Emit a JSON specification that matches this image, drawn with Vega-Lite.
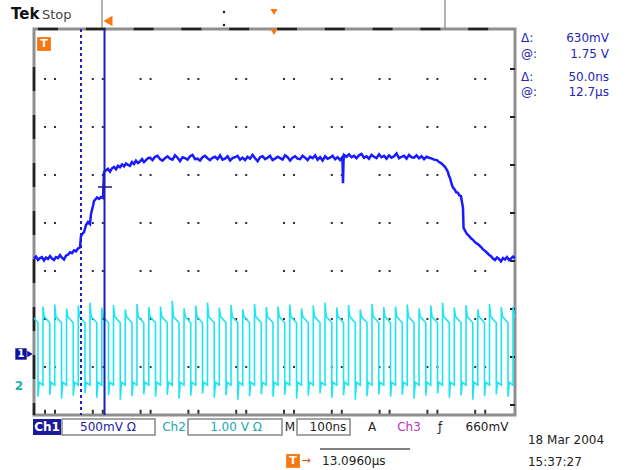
{
  "$schema": "https://vega.github.io/schema/vega-lite/v6.json",
  "width": 481,
  "height": 386,
  "autosize": {"type": "none"},
  "padding": {"left": 34, "top": 29, "right": 124, "bottom": 55},
  "background": "white",
  "config": {"view": {"stroke": "#8f8f8f", "strokeWidth": 3}, "text": {"font": "DejaVu Sans"}},
  "datasets": {
    "ch1": [
      {"x":0,"y":-0.74},{"x":0.042,"y":-0.70},{"x":0.083,"y":-0.77},{"x":0.125,"y":-0.73},{"x":0.166,"y":-0.71},{"x":0.208,"y":-0.78},{"x":0.249,"y":-0.72},{"x":0.291,"y":-0.75},{"x":0.333,"y":-0.69},{"x":0.374,"y":-0.74},{"x":0.416,"y":-0.77},{"x":0.457,"y":-0.71},{"x":0.499,"y":-0.73},{"x":0.540,"y":-0.67},{"x":0.582,"y":-0.72},{"x":0.624,"y":-0.76},{"x":0.665,"y":-0.68},{"x":0.707,"y":-0.66},{"x":0.748,"y":-0.61},{"x":0.790,"y":-0.63},{"x":0.832,"y":-0.57},{"x":0.873,"y":-0.59},{"x":0.915,"y":-0.53},{"x":0.956,"y":-0.51},
      {"x":0.977,"y":-0.27},{"x":1.019,"y":-0.21},{"x":1.040,"y":-0.19},{"x":1.081,"y":-0.04},{"x":1.123,"y":0.02},{"x":1.164,"y":-0.02},{"x":1.185,"y":0.19},{"x":1.227,"y":0.36},{"x":1.248,"y":0.46},{"x":1.268,"y":0.48},{"x":1.310,"y":0.53},{"x":1.352,"y":0.50},{"x":1.393,"y":0.54},{"x":1.435,"y":0.52},
      {"x":1.455,"y":1.06},{"x":1.497,"y":1.10},{"x":1.538,"y":1.13},{"x":1.580,"y":1.07},{"x":1.622,"y":1.14},{"x":1.663,"y":1.17},{"x":1.705,"y":1.12},{"x":1.746,"y":1.19},{"x":1.788,"y":1.16},{"x":1.830,"y":1.22},{"x":1.871,"y":1.18},{"x":1.913,"y":1.24},{"x":1.954,"y":1.21},{"x":1.996,"y":1.19},{"x":2.037,"y":1.27},{"x":2.079,"y":1.23},{"x":2.120,"y":1.30},{"x":2.162,"y":1.25},{"x":2.203,"y":1.28},{"x":2.245,"y":1.33},{"x":2.287,"y":1.27},{"x":2.328,"y":1.31},{"x":2.370,"y":1.35},
      {"x":2.412,"y":1.36},{"x":2.464,"y":1.31},{"x":2.516,"y":1.38},{"x":2.568,"y":1.40},{"x":2.620,"y":1.33},{"x":2.672,"y":1.30},{"x":2.724,"y":1.35},{"x":2.776,"y":1.39},{"x":2.828,"y":1.34},{"x":2.880,"y":1.32},{"x":2.932,"y":1.41},{"x":2.984,"y":1.36},{"x":3.036,"y":1.29},{"x":3.088,"y":1.37},{"x":3.140,"y":1.35},{"x":3.192,"y":1.32},{"x":3.244,"y":1.39},{"x":3.296,"y":1.42},{"x":3.348,"y":1.33},{"x":3.400,"y":1.34},{"x":3.452,"y":1.30},{"x":3.504,"y":1.37},{"x":3.556,"y":1.40},{"x":3.608,"y":1.35},{"x":3.660,"y":1.31},{"x":3.712,"y":1.36},{"x":3.764,"y":1.38},{"x":3.816,"y":1.33},{"x":3.868,"y":1.41},{"x":3.920,"y":1.32},{"x":3.972,"y":1.34},{"x":4.024,"y":1.39},{"x":4.076,"y":1.30},{"x":4.128,"y":1.35},{"x":4.180,"y":1.37},{"x":4.232,"y":1.40},{"x":4.284,"y":1.32},{"x":4.336,"y":1.36},{"x":4.388,"y":1.31},{"x":4.440,"y":1.38},{"x":4.492,"y":1.34},{"x":4.544,"y":1.42},{"x":4.596,"y":1.35},{"x":4.648,"y":1.29},{"x":4.700,"y":1.37},{"x":4.752,"y":1.39},{"x":4.804,"y":1.33},{"x":4.856,"y":1.36},{"x":4.908,"y":1.40},{"x":4.960,"y":1.31},{"x":5.012,"y":1.34},{"x":5.064,"y":1.38},{"x":5.116,"y":1.35},{"x":5.168,"y":1.32},{"x":5.220,"y":1.41},{"x":5.272,"y":1.37},{"x":5.324,"y":1.30},{"x":5.376,"y":1.36},{"x":5.428,"y":1.39},{"x":5.480,"y":1.34},{"x":5.532,"y":1.33},{"x":5.584,"y":1.40},{"x":5.636,"y":1.36},{"x":5.688,"y":1.31},{"x":5.740,"y":1.38},{"x":5.792,"y":1.35},{"x":5.844,"y":1.41},{"x":5.896,"y":1.32},{"x":5.948,"y":1.37},{"x":6.000,"y":1.30},{"x":6.052,"y":1.39},{"x":6.104,"y":1.34},{"x":6.156,"y":1.36},{"x":6.208,"y":1.40},{"x":6.260,"y":1.33},{"x":6.312,"y":1.37},{"x":6.364,"y":1.31},
      {"x":6.403,"y":1.36},{"x":6.414,"y":1.30},{"x":6.424,"y":0.83},{"x":6.435,"y":1.30},{"x":6.445,"y":1.42},{"x":6.497,"y":1.38},{"x":6.549,"y":1.43},{"x":6.601,"y":1.37},{"x":6.653,"y":1.40},{"x":6.705,"y":1.35},{"x":6.757,"y":1.41},{"x":6.809,"y":1.44},{"x":6.861,"y":1.36},{"x":6.913,"y":1.39},{"x":6.965,"y":1.34},{"x":7.017,"y":1.42},{"x":7.069,"y":1.38},{"x":7.121,"y":1.35},{"x":7.173,"y":1.43},{"x":7.225,"y":1.37},{"x":7.277,"y":1.40},{"x":7.329,"y":1.34},{"x":7.381,"y":1.41},{"x":7.433,"y":1.36},{"x":7.485,"y":1.39},{"x":7.537,"y":1.45},{"x":7.589,"y":1.35},{"x":7.641,"y":1.38},{"x":7.693,"y":1.40},{"x":7.745,"y":1.34},{"x":7.797,"y":1.42},{"x":7.849,"y":1.37},{"x":7.901,"y":1.36},{"x":7.953,"y":1.41},{"x":8.005,"y":1.35},{"x":8.057,"y":1.39},{"x":8.109,"y":1.33},{"x":8.161,"y":1.38},{"x":8.213,"y":1.36},
      {"x":8.274,"y":1.34},{"x":8.316,"y":1.32},{"x":8.378,"y":1.31},{"x":8.420,"y":1.27},{"x":8.462,"y":1.25},{"x":8.503,"y":1.21},{"x":8.545,"y":1.17},{"x":8.586,"y":1.10},{"x":8.607,"y":1.06},{"x":8.628,"y":0.98},{"x":8.649,"y":0.94},{"x":8.670,"y":0.86},{"x":8.690,"y":0.79},{"x":8.711,"y":0.74},{"x":8.753,"y":0.69},{"x":8.774,"y":0.64},{"x":8.815,"y":0.63},{"x":8.836,"y":0.58},{"x":8.877,"y":0.56},{"x":8.919,"y":0.31},{"x":8.930,"y":-0.10},{"x":8.961,"y":-0.16},{"x":9.002,"y":-0.23},{"x":9.044,"y":-0.27},{"x":9.085,"y":-0.32},{"x":9.127,"y":-0.35},{"x":9.168,"y":-0.40},{"x":9.210,"y":-0.43},{"x":9.251,"y":-0.46},{"x":9.293,"y":-0.50},{"x":9.335,"y":-0.55},{"x":9.376,"y":-0.58},{"x":9.418,"y":-0.62},{"x":9.459,"y":-0.66},{"x":9.501,"y":-0.69},{"x":9.542,"y":-0.74},{"x":9.584,"y":-0.77},{"x":9.625,"y":-0.72},{"x":9.667,"y":-0.75},{"x":9.708,"y":-0.80},{"x":9.750,"y":-0.73},{"x":9.792,"y":-0.76},{"x":9.833,"y":-0.71},{"x":9.875,"y":-0.77},{"x":9.917,"y":-0.74},{"x":9.958,"y":-0.70},{"x":10.0,"y":-0.73}
    ],
    "ch2": [
      {"x":0,"y":-1.98},
      {"x":0.083,"y":-2.08},{"x":0.083,"y":-3.62},{"x":0.108,"y":-3.32},{"x":0.187,"y":-3.38},{"x":0.187,"y":-1.74},{"x":0.212,"y":-1.95},
      {"x":0.327,"y":-2.08},{"x":0.327,"y":-3.58},{"x":0.352,"y":-3.32},{"x":0.431,"y":-3.38},{"x":0.431,"y":-1.70},{"x":0.456,"y":-1.95},
      {"x":0.572,"y":-2.08},{"x":0.572,"y":-3.66},{"x":0.597,"y":-3.32},{"x":0.676,"y":-3.38},{"x":0.676,"y":-1.78},{"x":0.701,"y":-1.95},
      {"x":0.816,"y":-2.08},{"x":0.816,"y":-3.60},{"x":0.841,"y":-3.32},{"x":0.920,"y":-3.38},{"x":0.920,"y":-1.72},{"x":0.945,"y":-1.95},
      {"x":1.060,"y":-2.08},{"x":1.060,"y":-3.55},{"x":1.085,"y":-3.32},{"x":1.164,"y":-3.38},{"x":1.164,"y":-1.66},{"x":1.189,"y":-1.95},
      {"x":1.305,"y":-2.08},{"x":1.305,"y":-3.64},{"x":1.330,"y":-3.32},{"x":1.409,"y":-3.38},{"x":1.409,"y":-1.76},{"x":1.434,"y":-1.95},
      {"x":1.549,"y":-2.08},{"x":1.549,"y":-3.59},{"x":1.574,"y":-3.32},{"x":1.653,"y":-3.38},{"x":1.653,"y":-1.71},{"x":1.678,"y":-1.95},
      {"x":1.793,"y":-2.08},{"x":1.793,"y":-3.68},{"x":1.818,"y":-3.32},{"x":1.897,"y":-3.38},{"x":1.897,"y":-1.80},{"x":1.922,"y":-1.95},
      {"x":2.037,"y":-2.08},{"x":2.037,"y":-3.61},{"x":2.062,"y":-3.32},{"x":2.141,"y":-3.38},{"x":2.141,"y":-1.69},{"x":2.166,"y":-1.95},
      {"x":2.282,"y":-2.08},{"x":2.282,"y":-3.57},{"x":2.307,"y":-3.32},{"x":2.386,"y":-3.38},{"x":2.386,"y":-1.75},{"x":2.411,"y":-1.95},
      {"x":2.526,"y":-2.08},{"x":2.526,"y":-3.62},{"x":2.551,"y":-3.32},{"x":2.630,"y":-3.38},{"x":2.630,"y":-1.74},{"x":2.655,"y":-1.95},
      {"x":2.770,"y":-2.08},{"x":2.770,"y":-3.58},{"x":2.795,"y":-3.32},{"x":2.874,"y":-3.38},{"x":2.874,"y":-1.62},{"x":2.899,"y":-1.95},
      {"x":3.015,"y":-2.08},{"x":3.015,"y":-3.66},{"x":3.040,"y":-3.32},{"x":3.119,"y":-3.38},{"x":3.119,"y":-1.78},{"x":3.144,"y":-1.95},
      {"x":3.259,"y":-2.08},{"x":3.259,"y":-3.60},{"x":3.284,"y":-3.32},{"x":3.363,"y":-3.38},{"x":3.363,"y":-1.72},{"x":3.388,"y":-1.95},
      {"x":3.503,"y":-2.08},{"x":3.503,"y":-3.55},{"x":3.528,"y":-3.32},{"x":3.607,"y":-3.38},{"x":3.607,"y":-1.66},{"x":3.632,"y":-1.95},
      {"x":3.748,"y":-2.08},{"x":3.748,"y":-3.64},{"x":3.773,"y":-3.32},{"x":3.852,"y":-3.38},{"x":3.852,"y":-1.76},{"x":3.877,"y":-1.95},
      {"x":3.992,"y":-2.08},{"x":3.992,"y":-3.59},{"x":4.017,"y":-3.32},{"x":4.096,"y":-3.38},{"x":4.096,"y":-1.71},{"x":4.121,"y":-1.95},
      {"x":4.236,"y":-2.08},{"x":4.236,"y":-3.68},{"x":4.261,"y":-3.32},{"x":4.340,"y":-3.38},{"x":4.340,"y":-1.80},{"x":4.365,"y":-1.95},
      {"x":4.480,"y":-2.08},{"x":4.480,"y":-3.61},{"x":4.505,"y":-3.32},{"x":4.584,"y":-3.38},{"x":4.584,"y":-1.69},{"x":4.609,"y":-1.95},
      {"x":4.725,"y":-2.08},{"x":4.725,"y":-3.57},{"x":4.750,"y":-3.32},{"x":4.829,"y":-3.38},{"x":4.829,"y":-1.75},{"x":4.854,"y":-1.95},
      {"x":4.969,"y":-2.08},{"x":4.969,"y":-3.62},{"x":4.994,"y":-3.32},{"x":5.073,"y":-3.38},{"x":5.073,"y":-1.74},{"x":5.098,"y":-1.95},
      {"x":5.213,"y":-2.08},{"x":5.213,"y":-3.58},{"x":5.238,"y":-3.32},{"x":5.317,"y":-3.38},{"x":5.317,"y":-1.70},{"x":5.342,"y":-1.95},
      {"x":5.458,"y":-2.08},{"x":5.458,"y":-3.66},{"x":5.483,"y":-3.32},{"x":5.562,"y":-3.38},{"x":5.562,"y":-1.78},{"x":5.587,"y":-1.95},
      {"x":5.702,"y":-2.08},{"x":5.702,"y":-3.60},{"x":5.727,"y":-3.32},{"x":5.806,"y":-3.38},{"x":5.806,"y":-1.72},{"x":5.831,"y":-1.95},
      {"x":5.946,"y":-2.08},{"x":5.946,"y":-3.55},{"x":5.971,"y":-3.32},{"x":6.050,"y":-3.38},{"x":6.050,"y":-1.66},{"x":6.075,"y":-1.95},
      {"x":6.191,"y":-2.08},{"x":6.191,"y":-3.64},{"x":6.216,"y":-3.32},{"x":6.295,"y":-3.38},{"x":6.295,"y":-1.76},{"x":6.320,"y":-1.95},
      {"x":6.435,"y":-2.08},{"x":6.435,"y":-3.59},{"x":6.460,"y":-3.32},{"x":6.539,"y":-3.38},{"x":6.539,"y":-1.71},{"x":6.564,"y":-1.95},
      {"x":6.679,"y":-2.08},{"x":6.679,"y":-3.68},{"x":6.704,"y":-3.32},{"x":6.783,"y":-3.38},{"x":6.783,"y":-1.80},{"x":6.808,"y":-1.95},
      {"x":6.923,"y":-2.08},{"x":6.923,"y":-3.61},{"x":6.948,"y":-3.32},{"x":7.027,"y":-3.38},{"x":7.027,"y":-1.69},{"x":7.052,"y":-1.95},
      {"x":7.168,"y":-2.08},{"x":7.168,"y":-3.57},{"x":7.193,"y":-3.32},{"x":7.272,"y":-3.38},{"x":7.272,"y":-1.75},{"x":7.297,"y":-1.95},
      {"x":7.412,"y":-2.08},{"x":7.412,"y":-3.62},{"x":7.437,"y":-3.32},{"x":7.516,"y":-3.38},{"x":7.516,"y":-1.74},{"x":7.541,"y":-1.95},
      {"x":7.656,"y":-2.08},{"x":7.656,"y":-3.58},{"x":7.681,"y":-3.32},{"x":7.760,"y":-3.38},{"x":7.760,"y":-1.70},{"x":7.785,"y":-1.95},
      {"x":7.901,"y":-2.08},{"x":7.901,"y":-3.66},{"x":7.926,"y":-3.32},{"x":8.005,"y":-3.38},{"x":8.005,"y":-1.78},{"x":8.030,"y":-1.95},
      {"x":8.145,"y":-2.08},{"x":8.145,"y":-3.60},{"x":8.170,"y":-3.32},{"x":8.249,"y":-3.38},{"x":8.249,"y":-1.72},{"x":8.274,"y":-1.95},
      {"x":8.389,"y":-2.08},{"x":8.389,"y":-3.55},{"x":8.414,"y":-3.32},{"x":8.493,"y":-3.38},{"x":8.493,"y":-1.66},{"x":8.518,"y":-1.95},
      {"x":8.634,"y":-2.08},{"x":8.634,"y":-3.64},{"x":8.659,"y":-3.32},{"x":8.738,"y":-3.38},{"x":8.738,"y":-1.76},{"x":8.763,"y":-1.95},
      {"x":8.878,"y":-2.08},{"x":8.878,"y":-3.59},{"x":8.903,"y":-3.32},{"x":8.982,"y":-3.38},{"x":8.982,"y":-1.71},{"x":9.007,"y":-1.95},
      {"x":9.122,"y":-2.08},{"x":9.122,"y":-3.68},{"x":9.147,"y":-3.32},{"x":9.226,"y":-3.38},{"x":9.226,"y":-1.80},{"x":9.251,"y":-1.95},
      {"x":9.366,"y":-2.08},{"x":9.366,"y":-3.61},{"x":9.391,"y":-3.32},{"x":9.470,"y":-3.38},{"x":9.470,"y":-1.69},{"x":9.495,"y":-1.95},
      {"x":9.611,"y":-2.08},{"x":9.611,"y":-3.57},{"x":9.636,"y":-3.32},{"x":9.715,"y":-3.38},{"x":9.715,"y":-1.75},{"x":9.740,"y":-1.95},
      {"x":9.855,"y":-2.08},{"x":9.855,"y":-3.62},{"x":9.880,"y":-3.32},{"x":9.959,"y":-3.38},{"x":9.959,"y":-1.74},{"x":9.984,"y":-1.95},
      {"x":10.0,"y":-1.97}
    ],
    "dotrows": [
      {"x":0.208,"x2":9.5,"y":3},{"x":0.208,"x2":9.5,"y":2},{"x":0.208,"x2":9.5,"y":1},{"x":0.208,"x2":9.5,"y":0},{"x":0.208,"x2":9.5,"y":-1},{"x":0.208,"x2":9.5,"y":-2},{"x":0.208,"x2":9.5,"y":-3}
    ],
    "bticks": [{"x":0.208,"x2":9.5,"y":-3.93}],
    "topdash": [{"x":0.083,"x2":10,"y":4.0417}],
    "leftdash": [{"x":0,"y":3.25,"y2":-4}],
    "rightticks": [{"x":9.948,"y":3.229,"y2":-4}],
    "cursdot": [{"x":0.977,"y":4.0417,"y2":-4}],
    "curssolid": [{"x":1.466,"y":4.0417,"y2":-4}],
    "cross": [{"x":1.331,"x2":1.622,"y":0.75}],
    "seps": [{"x":1.414,"y":4.646,"y2":4.0625},{"x":8.545,"y":4.646,"y2":4.0625}],
    "overline": [{"x":5.946,"x2":7.817,"y":-4.708}],
    "boxes": [{"x":0.582,"x2":2.516,"y":-4.083,"y2":-4.417},{"x":3.202,"x2":5.156,"y":-4.083,"y2":-4.417},{"x":5.468,"x2":6.570,"y":-4.083,"y2":-4.417}],
    "ch1box": [{"x":-0.021,"x2":0.561,"y":-4.083,"y2":-4.417}],
    "orangeSq": [{"x":0.208,"y":3.729},{"x":5.385,"y":-4.958}],
    "orangeT": [{"x":0.208,"y":3.729,"t":"T"},{"x":5.385,"y":-4.958,"t":"T"}],
    "trigpos": [{"x":1.538,"y":4.208}],
    "trigtri": [{"x":4.99,"y":4.396},{"x":4.99,"y":3.979}],
    "blackdots": [{"x":3.95,"y":4.396},{"x":3.95,"y":4.125}],
    "tek": [{"x":-0.478,"y":4.354,"t":"Tek"}],
    "stop": [{"x":0.166,"y":4.333,"t":"Stop"}],
    "readlab": [{"x":10.125,"y":3.854,"t":"Δ:"},{"x":10.125,"y":3.521,"t":"@:"},{"x":10.125,"y":3.042,"t":"Δ:"},{"x":10.125,"y":2.729,"t":"@:"}],
    "readval": [{"x":11.954,"y":3.854,"t":"630mV"},{"x":11.954,"y":3.521,"t":"1.75 V"},{"x":11.954,"y":3.042,"t":"50.0ns"},{"x":11.954,"y":2.729,"t":"12.7µs"}],
    "st_white": [{"x":0.270,"y":-4.25,"t":"Ch1"}],
    "st_blue": [{"x":1.538,"y":-4.25,"t":"500mV Ω"}],
    "st_cyan": [{"x":2.911,"y":-4.25,"t":"Ch2"},{"x":4.2,"y":-4.25,"t":"1.00 V Ω"}],
    "st_black": [{"x":5.322,"y":-4.25,"t":"M"},{"x":6.112,"y":-4.25,"t":"100ns"},{"x":7.027,"y":-4.25,"t":"A"},{"x":8.441,"y":-4.25,"t":"ƒ"},{"x":9.418,"y":-4.25,"t":"660mV"}],
    "st_mag": [{"x":7.796,"y":-4.25,"t":"Ch3"}],
    "bottomleft": [{"x":5.988,"y":-4.958,"t":"13.0960µs"},{"x":10.27,"y":-4.521,"t":"18 Mar 2004"},{"x":10.27,"y":-4.979,"t":"15:37:27"}],
    "arrow": [{"x":5.655,"y":-4.958,"t":"→"}],
    "m1": [{"x":-0.27,"y":-2.729}],
    "m1tri": [{"x":-0.083,"y":-2.729}],
    "m1t": [{"x":-0.27,"y":-2.729,"t":"1"}],
    "m2t": [{"x":-0.312,"y":-3.396,"t":"2"}]
  },
  "encoding": {
    "x": {"field": "x", "type": "quantitative", "scale": {"domain": [0, 10], "nice": false, "zero": false}, "axis": null},
    "y": {"field": "y", "type": "quantitative", "scale": {"domain": [-4, 4.0417], "nice": false, "zero": false}, "axis": null}
  },
  "layer": [
    {"data": {"name": "dotrows"}, "mark": {"type": "rule", "color": "#333", "strokeWidth": 2, "strokeDash": [2, 8, 2, 35.8]}, "encoding": {"x2": {"field": "x2"}}},
    {"data": {"name": "bticks"}, "mark": {"type": "rule", "color": "#333", "strokeWidth": 4, "strokeDash": [2, 8, 2, 35.8]}, "encoding": {"x2": {"field": "x2"}}},
    {"data": {"name": "topdash"}, "mark": {"type": "rule", "color": "#222", "strokeWidth": 2.5, "strokeDash": [20, 27.8]}, "encoding": {"x2": {"field": "x2"}}},
    {"data": {"name": "leftdash"}, "mark": {"type": "rule", "color": "#222", "strokeWidth": 2.5, "strokeDash": [24, 24]}, "encoding": {"y2": {"field": "y2"}}},
    {"data": {"name": "rightticks"}, "mark": {"type": "rule", "color": "#222", "strokeWidth": 5, "strokeDash": [2, 46]}, "encoding": {"y2": {"field": "y2"}}},
    {"data": {"name": "ch2"}, "mark": {"type": "line", "color": "#1ee6f0", "strokeWidth": 1.6}, "encoding": {"order": {"value": null}}},
    {"data": {"name": "ch1"}, "mark": {"type": "line", "color": "#1a1aff", "strokeWidth": 2.5}, "encoding": {"order": {"value": null}}},
    {"data": {"name": "cursdot"}, "mark": {"type": "rule", "color": "#2020c0", "strokeWidth": 2, "strokeDash": [3, 3]}, "encoding": {"y2": {"field": "y2"}}},
    {"data": {"name": "curssolid"}, "mark": {"type": "rule", "color": "#2020b0", "strokeWidth": 2}, "encoding": {"y2": {"field": "y2"}}},
    {"data": {"name": "cross"}, "mark": {"type": "rule", "color": "#1a1a80", "strokeWidth": 1.5}, "encoding": {"x2": {"field": "x2"}}},
    {"data": {"name": "seps"}, "mark": {"type": "rule", "color": "#666", "strokeWidth": 1}, "encoding": {"y2": {"field": "y2"}}},
    {"data": {"name": "overline"}, "mark": {"type": "rule", "color": "#555", "strokeWidth": 1.5}, "encoding": {"x2": {"field": "x2"}}},
    {"data": {"name": "boxes"}, "mark": {"type": "rect", "fill": null, "stroke": "#888", "strokeWidth": 1.5}, "encoding": {"x2": {"field": "x2"}, "y2": {"field": "y2"}}},
    {"data": {"name": "ch1box"}, "mark": {"type": "rect", "fill": "#1a1a9c"}, "encoding": {"x2": {"field": "x2"}, "y2": {"field": "y2"}}},
    {"data": {"name": "orangeSq"}, "mark": {"type": "point", "shape": "square", "filled": true, "color": "#f7780f", "size": 190, "opacity": 1}, "encoding": {}},
    {"data": {"name": "orangeT"}, "mark": {"type": "text", "color": "white", "fontSize": 11, "fontWeight": "bold"}, "encoding": {"text": {"field": "t"}}},
    {"data": {"name": "trigpos"}, "mark": {"type": "point", "shape": "triangle-left", "filled": true, "color": "#f7780f", "size": 110, "opacity": 1}, "encoding": {}},
    {"data": {"name": "trigtri"}, "mark": {"type": "point", "shape": "triangle-down", "filled": true, "color": "#f7780f", "size": 50, "opacity": 1}, "encoding": {}},
    {"data": {"name": "blackdots"}, "mark": {"type": "point", "shape": "square", "filled": true, "color": "#222", "size": 5, "opacity": 1}, "encoding": {}},
    {"data": {"name": "tek"}, "mark": {"type": "text", "align": "left", "baseline": "middle", "fontSize": 15, "fontWeight": "bold", "color": "#111"}, "encoding": {"text": {"field": "t"}}},
    {"data": {"name": "stop"}, "mark": {"type": "text", "align": "left", "baseline": "middle", "fontSize": 13, "color": "#444"}, "encoding": {"text": {"field": "t"}}},
    {"data": {"name": "readlab"}, "mark": {"type": "text", "align": "left", "baseline": "middle", "fontSize": 12, "color": "#2525b5"}, "encoding": {"text": {"field": "t"}}},
    {"data": {"name": "readval"}, "mark": {"type": "text", "align": "right", "baseline": "middle", "fontSize": 12, "color": "#2525b5"}, "encoding": {"text": {"field": "t"}}},
    {"data": {"name": "st_white"}, "mark": {"type": "text", "align": "center", "baseline": "middle", "fontSize": 12, "fontWeight": "bold", "color": "white"}, "encoding": {"text": {"field": "t"}}},
    {"data": {"name": "st_blue"}, "mark": {"type": "text", "align": "center", "baseline": "middle", "fontSize": 12, "color": "#2020a8"}, "encoding": {"text": {"field": "t"}}},
    {"data": {"name": "st_cyan"}, "mark": {"type": "text", "align": "center", "baseline": "middle", "fontSize": 12, "color": "#20a8b0"}, "encoding": {"text": {"field": "t"}}},
    {"data": {"name": "st_black"}, "mark": {"type": "text", "align": "center", "baseline": "middle", "fontSize": 12, "color": "#222"}, "encoding": {"text": {"field": "t"}}},
    {"data": {"name": "st_mag"}, "mark": {"type": "text", "align": "center", "baseline": "middle", "fontSize": 12, "color": "#c030c0"}, "encoding": {"text": {"field": "t"}}},
    {"data": {"name": "bottomleft"}, "mark": {"type": "text", "align": "left", "baseline": "middle", "fontSize": 12, "color": "#222"}, "encoding": {"text": {"field": "t"}}},
    {"data": {"name": "arrow"}, "mark": {"type": "text", "align": "center", "baseline": "middle", "fontSize": 11, "color": "#e0501a"}, "encoding": {"text": {"field": "t"}}},
    {"data": {"name": "m1"}, "mark": {"type": "point", "shape": "square", "filled": true, "color": "#10109a", "size": 130, "opacity": 1}, "encoding": {}},
    {"data": {"name": "m1tri"}, "mark": {"type": "point", "shape": "triangle-right", "filled": true, "color": "#10109a", "size": 40, "opacity": 1}, "encoding": {}},
    {"data": {"name": "m1t"}, "mark": {"type": "text", "align": "center", "baseline": "middle", "fontSize": 10, "fontWeight": "bold", "color": "white"}, "encoding": {"text": {"field": "t"}}},
    {"data": {"name": "m2t"}, "mark": {"type": "text", "align": "center", "baseline": "middle", "fontSize": 12, "fontWeight": "bold", "color": "#20b0b0"}, "encoding": {"text": {"field": "t"}}}
  ]
}
